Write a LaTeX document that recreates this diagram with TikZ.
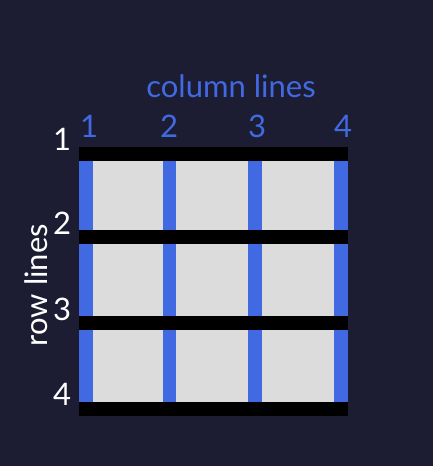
\documentclass[tikz,border=0pt]{standalone}
\usepackage{fontspec}
\setmainfont{Lato}
\definecolor{bg}{HTML}{1C1D32}
\definecolor{cellgray}{HTML}{DCDCDC}
\definecolor{colblue}{HTML}{4169E1}
\begin{document}
\begin{tikzpicture}[x=1pt,y=-1pt,
  lbl/.style={inner sep=0pt, anchor=base, font=\fontsize{31}{36}\selectfont},
  collbl/.style={lbl, text=colblue},
  rowlbl/.style={lbl, text=white},
  colbar/.style={fill=colblue},
  rowbar/.style={fill=black}]
\fill[bg] (0,0) rectangle (433,466);
\useasboundingbox (0,0) rectangle (433,466);
\fill[cellgray] (79,147) rectangle (348,416);
% column lines
\fill[colbar] (79,147) rectangle (93,416);
\fill[colbar] (163,147) rectangle (176,416);
\fill[colbar] (248,147) rectangle (262,416);
\fill[colbar] (334,147) rectangle (348,416);
% row lines
\fill[rowbar] (79,147) rectangle (348,161);
\fill[rowbar] (79,230) rectangle (348,244);
\fill[rowbar] (79,316) rectangle (348,330);
\fill[rowbar] (79,402) rectangle (348,416);
% labels
\node[collbl] (title) at (231,97) {column lines};
\node[collbl] (c1) at (89,137) {1};
\node[collbl] (c2) at (169,137) {2};
\node[collbl] (c3) at (257,137) {3};
\node[collbl] (c4) at (343,137) {4};
\node[rowlbl] (r1) at (62,150) {1};
\node[rowlbl] (r2) at (62,234) {2};
\node[rowlbl] (r3) at (62,320) {3};
\node[rowlbl] (r4) at (62,405) {4};
\node[rowlbl, rotate=90] (rowtitle) at (47,285) {row lines};
\end{tikzpicture}
\end{document}
